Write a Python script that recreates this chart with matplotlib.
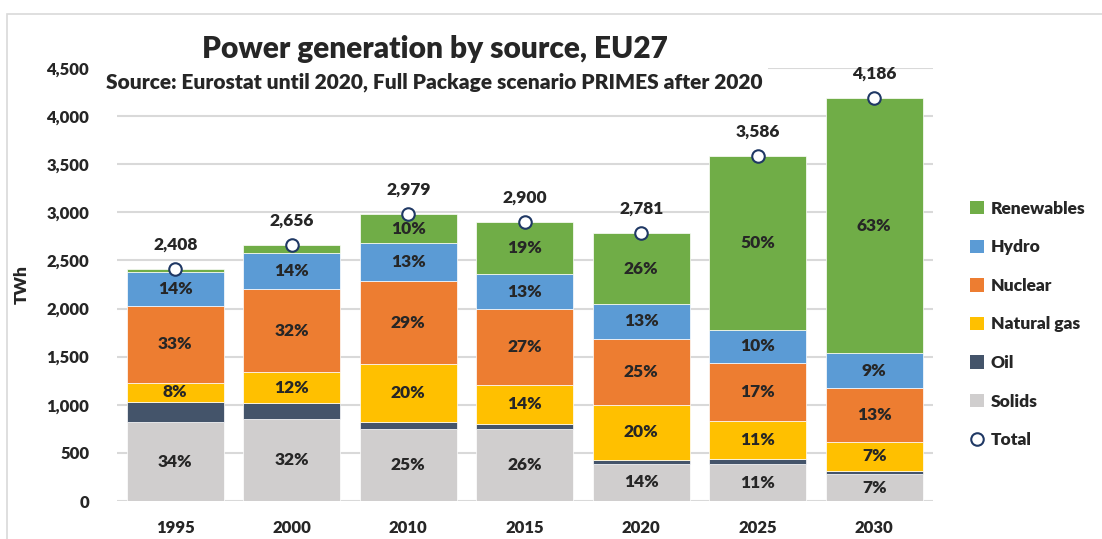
import matplotlib.pyplot as plt
import numpy as np
from matplotlib.lines import Line2D
from matplotlib.patches import Patch, Rectangle

plt.rcParams['font.family'] = ['Lato', 'DejaVu Sans']
plt.rcParams['font.weight'] = 'heavy'
plt.rcParams['axes.labelweight'] = 'heavy'

years = ['1995', '2000', '2010', '2015', '2020', '2025', '2030']

# TWh
solids = [818, 850, 750, 745, 385, 381, 280]
oil = [212, 165, 76, 59, 45, 56, 35]
natural_gas = [200, 325, 597, 402, 565, 395, 295]
nuclear = [800, 860, 860, 787, 690, 599, 560]
hydro = [345, 380, 395, 364, 365, 350, 365]
renewables = [33, 76, 301, 543, 731, 1805, 2651]

series = [
    ('Solids', solids, '#D0CECE'),
    ('Oil', oil, '#44546A'),
    ('Natural gas', natural_gas, '#FFC000'),
    ('Nuclear', nuclear, '#ED7D31'),
    ('Hydro', hydro, '#5B9BD5'),
    ('Renewables', renewables, '#70AD47'),
]

total = np.sum([s[1] for s in series], axis=0)
x = np.arange(len(years))
txt = '#262626'

fig = plt.figure(figsize=(11.02, 5.39), dpi=100)
ax = fig.add_axes([0.1062, 0.0705, 0.740, 0.8033])

bottom = np.zeros(len(years))
for name, vals, color in series:
    vals = np.array(vals, dtype=float)
    ax.bar(x, vals, 0.83, bottom=bottom, color=color, edgecolor='white',
           linewidth=0.5, zorder=2)
    if name != 'Oil':
        for i, v in enumerate(vals):
            pct = round(v / total[i] * 100)
            if pct >= 5:
                ax.text(x[i], bottom[i] + v / 2, f'{pct}%', ha='center', va='center',
                        fontsize=12.5, color=txt, zorder=4)
    bottom += vals

ax.plot(x, total, 'o', ms=9, mfc='white', mec='#1F3864', mew=1.5, zorder=5)
for i, t in enumerate(total):
    ax.text(x[i], t + 170, f'{t:,}', ha='center', va='bottom', fontsize=12.5,
            color=txt, zorder=4)

ax.set_xlim(-0.5, len(years) - 0.5)
ax.set_ylim(0, 4500)
ax.set_yticks(np.arange(0, 4501, 500))
ax.set_yticklabels([f'{v:,}' for v in range(0, 4501, 500)])
ax.set_xticks(x)
ax.set_xticklabels(years)
ax.tick_params(length=0, labelsize=12, colors=txt)
ax.tick_params(axis='y', pad=20)
ax.tick_params(axis='x', pad=14)
ax.grid(axis='y', color='#D9D9D9', linewidth=1.5, zorder=0)
for sp in ax.spines.values():
    sp.set_visible(False)
ax.set_ylabel('TWh', fontsize=12.5, color=txt, labelpad=12)

fig.text(0.395, 0.91, 'Power generation by source, EU27', ha='center', va='center',
         fontsize=21.5, color=txt, backgroundcolor='white')
fig.text(0.394, 0.848, 'Source: Eurostat until 2020, Full Package scenario PRIMES after 2020',
         ha='center', va='center', fontsize=15, color=txt,
         bbox=dict(facecolor='white', edgecolor='none', pad=4))

fig.patches.append(Rectangle((7 / 1102, -0.2), 1.2, 1.2 - 13.5 / 539 + 0.0,
                             transform=fig.transFigure, fill=False,
                             edgecolor='#D9D9D9', linewidth=1.2))

handles = [Patch(facecolor=c, edgecolor='none', label=n) for n, _, c in series[::-1]]
handles.append(Line2D([], [], marker='o', ls='none', ms=9, mfc='white', mec='#1F3864',
                      mew=1.5, label='Total'))
leg = fig.legend(handles=handles, loc='center left', bbox_to_anchor=(0.866, 0.398),
                 frameon=False, fontsize=12.5, labelspacing=1.3, handlelength=0.8,
                 handleheight=0.8, handletextpad=0.4)
for t in leg.get_texts():
    t.set_color(txt)

fig.savefig('out.png', dpi=100)
